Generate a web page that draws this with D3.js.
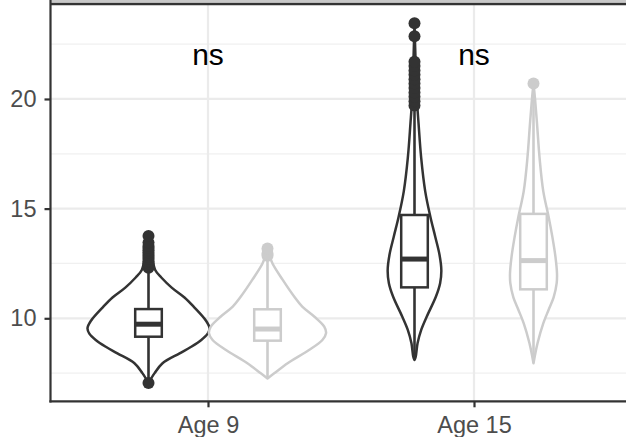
<!DOCTYPE html>
<html>
<head>
<meta charset="utf-8">
<script src="https://cdn.jsdelivr.net/npm/d3@7"></script>
<style>
  html, body { margin: 0; padding: 0; background: #fff; }
  svg { display: block; font-family: "Liberation Sans", Arial, sans-serif; }
</style>
</head>
<body>
<div id="grafico"></div>
<script>
// categorias e grupos
const ages = ["Age 9", "Age 15"];
const groups = ["Group A", "Group B"];
const sigLabels = ["ns", "ns"];

const yTicks = [10, 15, 20];
const yMinor = [7.5, 12.5, 17.5, 22.5];

// estatisticas do boxplot, ordem: [Age 9 A, Age 9 B, Age 15 A, Age 15 B]
const whiskerLow = [7.2, 7.3, 8.15, 7.98];
const q1 = [9.16, 8.98, 11.41, 11.32];
const median = [9.73, 9.51, 12.7, 12.63];
const q3 = [10.42, 10.41, 14.71, 14.76];
const whiskerHigh = [12.2, 12.75, 19.5, 20.3];

// outliers
const outA9 = [7.05, 12.3, 12.4, 12.5, 12.6, 12.7, 12.8, 12.9, 13.0, 13.1, 13.2, 13.3, 13.45, 13.75];
const outB9 = [12.85, 12.95, 13.18];
const outA15 = [19.7, 19.9, 20.1, 20.3, 20.5, 20.7, 20.9, 21.1, 21.3, 21.5, 21.7, 22.86, 23.45];
const outB15 = [20.7];

// perfis do violino: [valor, densidade relativa]
const violinA9 = [[7.05, 0], [7.5, 0.1], [7.95, 0.23], [8.4, 0.51], [8.7, 0.7], [9.0, 0.86], [9.3, 0.97],
  [9.55, 1.0], [9.9, 0.94], [10.5, 0.75], [10.95, 0.59], [11.4, 0.38], [11.86, 0.21], [12.2, 0.11],
  [12.95, 0.05], [13.4, 0.025], [13.75, 0]];
const violinB9 = [[7.26, 0], [7.49, 0.11], [7.95, 0.33], [8.55, 0.68], [9.01, 0.9], [9.32, 0.96],
  [9.62, 0.93], [10.07, 0.77], [10.53, 0.57], [10.98, 0.44], [11.75, 0.25], [12.51, 0.08],
  [12.9, 0.03], [13.18, 0]];
const violinA15 = [[8.1, 0], [8.25, 0.02], [8.86, 0.05], [9.47, 0.11], [10.07, 0.2], [10.98, 0.35],
  [11.6, 0.42], [12.18, 0.44], [12.9, 0.41], [13.72, 0.34], [14.63, 0.26], [15.8, 0.175], [17.3, 0.11],
  [18.9, 0.066], [19.96, 0.04], [21.5, 0.02], [23.45, 0]];
const violinB15 = [[7.95, 0], [8.86, 0.066], [9.77, 0.16], [10.4, 0.25], [10.95, 0.33], [11.6, 0.38],
  [12.05, 0.385], [12.8, 0.36], [13.7, 0.31], [14.6, 0.25], [15.8, 0.16], [17.3, 0.1], [18.9, 0.057],
  [20.0, 0.025], [20.7, 0]];

const corGrupo = ["#333333", "#cccccc"];

const width = 626;
const height = 437;

const svg = d3.select("#grafico").append("svg")
  .attr("width", width)
  .attr("height", height);

const y = d3.scaleLinear().domain([6.215, 24.33]).range([401.3, 4]);
const x = d3.scalePoint().domain(ages).range([208, 474]);
const dodge = d3.scalePoint().domain(groups).range([-59.5, 59.5]);
const larguraViolino = d3.scaleLinear().domain([0, 1]).range([0, 61]);
const meiaCaixa = x.step() * 0.05;

// monta as series
const series = [];
ages.forEach((age, i) => {
  groups.forEach((g, j) => {
    const k = i * 2 + j;
    series.push({
      age, group: g, cor: corGrupo[j],
      lo: whiskerLow[k], q1: q1[k], med: median[k], q3: q3[k], hi: whiskerHigh[k],
      out: [outA9, outB9, outA15, outB15][k],
      violino: [violinA9, violinB9, violinA15, violinB15][k]
    });
  });
});
series.forEach(s => { s.cx = x(s.age) + dodge(s.group); });

// grade
const grade = svg.append("g");
grade.selectAll(".minor").data(yMinor).enter().append("line")
  .attr("x1", 50).attr("x2", width)
  .attr("y1", d => y(d)).attr("y2", d => y(d))
  .attr("stroke", "#f0f0f0").attr("stroke-width", 1.2);
grade.selectAll(".major").data(yTicks).enter().append("line")
  .attr("x1", 50).attr("x2", width)
  .attr("y1", d => y(d)).attr("y2", d => y(d))
  .attr("stroke", "#ebebeb").attr("stroke-width", 2.2);
grade.selectAll(".vert").data(ages).enter().append("line")
  .attr("x1", d => x(d)).attr("x2", d => x(d))
  .attr("y1", 4).attr("y2", 401.3)
  .attr("stroke", "#ebebeb").attr("stroke-width", 2.2);

// borda de cima (recortada)
svg.append("rect").attr("x", 50).attr("y", 0).attr("width", width - 50).attr("height", 2.4)
  .attr("fill", "#c8c8c8");
svg.append("line").attr("x1", 50).attr("x2", width).attr("y1", 4).attr("y2", 4)
  .attr("stroke", "#333333").attr("stroke-width", 2.4);

// violinos
const area = d3.area()
  .y(d => y(d[0]))
  .curve(d3.curveCatmullRom);

series.forEach(s => {
  svg.append("path")
    .datum(s.violino)
    .attr("d", area.x0(d => s.cx - larguraViolino(d[1])).x1(d => s.cx + larguraViolino(d[1])))
    .attr("fill", "#ffffff")
    .attr("stroke", s.cor)
    .attr("stroke-width", 2.5)
    .attr("stroke-linejoin", "round");
});

// boxplots
series.forEach(s => {
  const g = svg.append("g");
  g.append("line").attr("x1", s.cx).attr("x2", s.cx).attr("y1", y(s.q3)).attr("y2", y(s.hi))
    .attr("stroke", s.cor).attr("stroke-width", 2.6);
  g.append("line").attr("x1", s.cx).attr("x2", s.cx).attr("y1", y(s.q1)).attr("y2", y(s.lo))
    .attr("stroke", s.cor).attr("stroke-width", 2.6);
  g.append("rect")
    .attr("x", s.cx - meiaCaixa).attr("width", meiaCaixa * 2)
    .attr("y", y(s.q3)).attr("height", y(s.q1) - y(s.q3))
    .attr("fill", "#ffffff").attr("stroke", s.cor).attr("stroke-width", 2.5);
  g.append("line").attr("x1", s.cx - meiaCaixa).attr("x2", s.cx + meiaCaixa)
    .attr("y1", y(s.med)).attr("y2", y(s.med))
    .attr("stroke", s.cor).attr("stroke-width", 5);
  g.selectAll("circle").data(s.out).enter().append("circle")
    .attr("cx", s.cx).attr("cy", d => y(d)).attr("r", 6)
    .attr("fill", s.cor);
});

// rotulos ns
svg.selectAll(".sig").data(ages).enter().append("text")
  .attr("x", d => x(d)).attr("y", 65)
  .attr("text-anchor", "middle")
  .attr("font-size", 30)
  .attr("fill", "#000000")
  .text((d, i) => sigLabels[i]);

// eixos
const eixoY = svg.append("g").attr("transform", "translate(50.5,0)")
  .call(d3.axisLeft(y).tickValues(yTicks).tickSize(6).tickSizeOuter(0).tickPadding(8));
eixoY.select(".domain").attr("d", "M0,402.4V0");
const eixoX = svg.append("g").attr("transform", "translate(0,401.3)")
  .call(d3.axisBottom(x).tickSize(6).tickSizeOuter(0).tickPadding(8.6));
eixoX.select(".domain").attr("d", "M49.4,0H" + width);

[eixoY, eixoX].forEach(e => {
  e.select(".domain").attr("stroke", "#333333").attr("stroke-width", 2.2);
  e.selectAll(".tick line").attr("stroke", "#333333").attr("stroke-width", 2.2);
  e.selectAll(".tick text").attr("fill", "#4d4d4d").attr("font-size", 23.5)
    .attr("font-family", "Liberation Sans, Arial, sans-serif");
});
</script>
</body>
</html>
